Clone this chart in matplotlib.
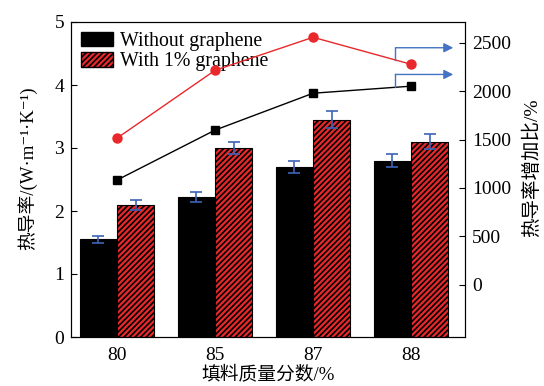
import matplotlib
matplotlib.use("Agg")
import matplotlib.pyplot as plt
import numpy as np
from matplotlib.patches import Patch

plt.rcParams['font.family'] = ['Liberation Serif', 'Noto Sans CJK SC', 'DejaVu Sans']
plt.rcParams['hatch.linewidth'] = 1.2

categories = ['80', '85', '87', '88']
without_gr = [1.55, 2.22, 2.70, 2.80]
without_err = [0.06, 0.08, 0.10, 0.10]
with_gr = [2.10, 3.00, 3.45, 3.10]
with_err = [0.08, 0.10, 0.13, 0.12]
incr_without = [1082, 1598, 1979, 2052]
incr_with = [1515, 2216, 2557, 2278]

lab_fam = ['Liberation Serif', 'DejaVu Serif', 'Noto Sans CJK SC']

fig = plt.figure(figsize=(5.44, 3.86), dpi=100)
ax = fig.add_axes([71/544, 1-337/386, (465-71)/544, (337-22)/386])
x = np.arange(len(categories))
w = 0.38
blue_err = '#3d64b8'
ax.bar(x - w/2, without_gr, w, color='black', edgecolor='black', linewidth=0.8,
       yerr=without_err, ecolor=blue_err, capsize=4, error_kw=dict(elinewidth=1.2, capthick=1.2))
ax.bar(x + w/2, with_gr, w, color='#e8282b', edgecolor='black', hatch='//////', linewidth=0.8,
       yerr=with_err, ecolor=blue_err, capsize=4, error_kw=dict(elinewidth=1.2, capthick=1.2))
ax.set_xlim(-0.47, 3.55)
ax.set_ylim(0, 5)
ax.set_xticks(x)
ax.set_xticklabels(categories, fontsize=14)
ax.tick_params(axis='x', length=0, pad=7)
ax.tick_params(axis='y', direction='in', labelsize=14, length=4, pad=5)
ax.set_yticks([0, 1, 2, 3, 4, 5])
ax.set_xlabel('填料质量分数/%', fontsize=13.5, family=lab_fam, labelpad=2)
ax.set_ylabel('热导率/(W·m⁻¹·K⁻¹)', fontsize=13.5, family=lab_fam)
ax.yaxis.set_label_coords(-0.086, 0.537)

ax2 = ax.twinx()
ax2.plot(x, incr_without, color='black', marker='s', markersize=6, linewidth=1)
ax2.plot(x, incr_with, color='#e8282b', marker='o', markersize=6.5, linewidth=1)
ax2.set_ylim(-540, 2715)
ax2.set_yticks([0, 500, 1000, 1500, 2000, 2500])
ax2.tick_params(axis='y', direction='in', labelsize=14, length=4, pad=5)
ax2.set_ylabel('热导率增加比/%', fontsize=14, family=lab_fam)
ax2.yaxis.set_label_coords(1.147, 0.537)

# arrows pointing to right axis
blue = '#4472c4'
xs = 2.84
def line_at(vals, xv):
    i = int(np.floor(xv))
    f = xv - i
    return vals[i] + f * (vals[i + 1] - vals[i])
for vals, ytop in [(incr_with, 2449), (incr_without, 2173)]:
    ystart = line_at(vals, xs)
    ax2.plot([xs, xs], [ystart, ytop], color=blue, linewidth=1)
    ax2.annotate('', xy=(3.43, ytop), xytext=(xs, ytop),
                 arrowprops=dict(arrowstyle='-|>', color=blue, lw=1, mutation_scale=14,
                                 shrinkA=0, shrinkB=0))

handles = [Patch(facecolor='black', edgecolor='black', label='Without graphene'),
           Patch(facecolor='#e8282b', edgecolor='black', hatch='//////', label='With 1% graphene')]
ax.legend(handles=handles, loc='upper left', frameon=False, fontsize=14.3,
          handlelength=1.6, handleheight=0.75, borderaxespad=0.3, borderpad=0.2,
          labelspacing=0.05, handletextpad=0.35)

fig.savefig('out.png', dpi=100)
